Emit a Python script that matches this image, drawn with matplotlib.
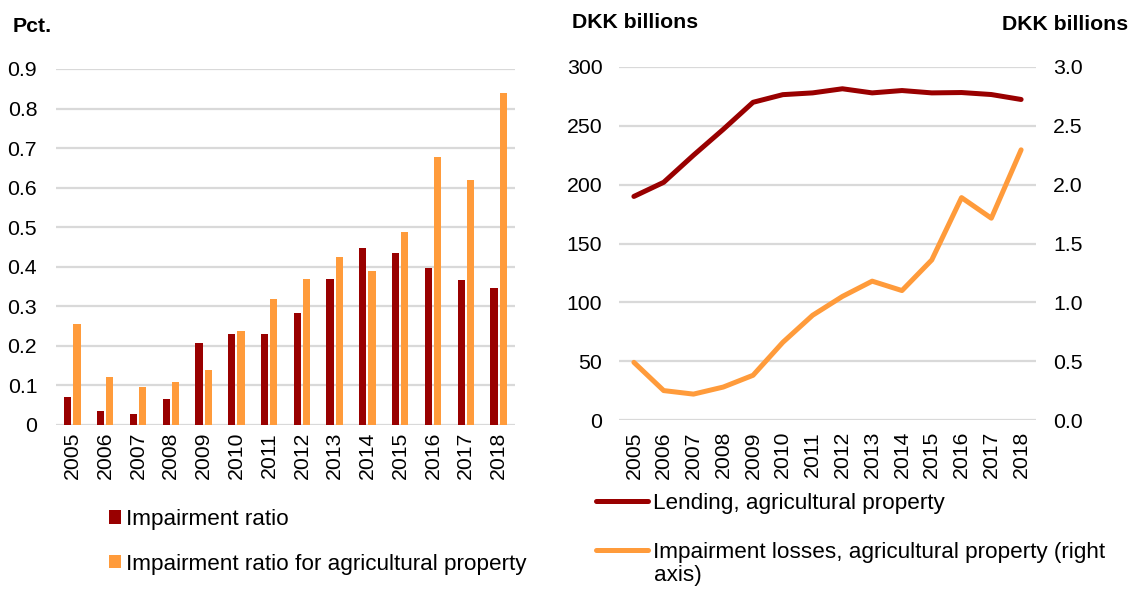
import numpy as np
import matplotlib
matplotlib.use("Agg")
import matplotlib.pyplot as plt

plt.rcParams["font.family"] = ["Liberation Sans", "DejaVu Sans"]

# impairment ratios (pct.)
years = ["2005", "2006", "2007", "2008", "2009", "2010", "2011",
         "2012", "2013", "2014", "2015", "2016", "2017", "2018"]
impairment_ratio = [0.072, 0.035, 0.027, 0.065, 0.207, 0.229, 0.230,
                    0.282, 0.368, 0.447, 0.435, 0.397, 0.366, 0.347]
impairment_ratio_agri = [0.256, 0.122, 0.095, 0.109, 0.139, 0.237, 0.318,
                         0.369, 0.424, 0.389, 0.489, 0.677, 0.619, 0.840]

# lending (DKK bn, left) and impairment losses (DKK bn, right axis)
lending_agri = [190, 202, 225, 247, 270, 276.5, 278, 281.5,
                278, 280, 278, 278.3, 276.6, 272.4]
losses_agri = [0.49, 0.25, 0.22, 0.28, 0.38, 0.66, 0.89, 1.05,
               1.18, 1.10, 1.36, 1.89, 1.715, 2.296]

dark_red = "#990000"
orange = "#FF9B3B"
grid_col = "#D9D9D9"
fs = 15.3
leg_fs = 16.2

fig = plt.figure(figsize=(11.34, 5.89), dpi=100)

# ---- left panel: bars ----
ax1 = fig.add_axes([56 / 1134, 1 - 425 / 589, 459 / 1134, 356 / 589])
x = np.arange(len(years))
w = 0.22
ax1.bar(x - 0.14, impairment_ratio, w, color=dark_red, label="Impairment ratio", zorder=3)
ax1.bar(x + 0.14, impairment_ratio_agri, w, color=orange,
        label="Impairment ratio for agricultural property", zorder=3)
ax1.set_xlim(-0.5, len(years) - 0.5)
ax1.set_ylim(0, 0.9)
ax1.set_yticks(np.arange(0, 0.91, 0.1))
ax1.set_yticklabels(["0"] + [f"{v:.1f}" for v in np.arange(0.1, 0.91, 0.1)])
ax1.set_xticks(x)
ax1.set_xticklabels(years, rotation=90)
ax1.yaxis.grid(True, color=grid_col, linewidth=1.6, zorder=0)
ax1.set_axisbelow(True)
for s in ax1.spines.values():
    s.set_visible(False)
ax1.tick_params(axis="both", length=0, labelsize=fs)
ax1.tick_params(axis="y", pad=13.5)
ax1.tick_params(axis="x", pad=5)
ax1.legend(loc="upper left", bbox_to_anchor=(109 / 1134, 1 - 509 / 589),
           bbox_transform=fig.transFigure, frameon=False, fontsize=leg_fs,
           handlelength=0.55, handleheight=0.55, handletextpad=0.2,
           labelspacing=1.05, borderaxespad=0, borderpad=0)
fig.text(13 / 1134, 1 - 27 / 589, "Pct.", fontsize=fs, fontweight="bold", va="center")

# ---- right panel: lines on two axes ----
ax2 = fig.add_axes([619 / 1134, 1 - 420 / 589, 417 / 1134, 353 / 589])
ax3 = ax2.twinx()
ax2.plot(x, lending_agri, color=dark_red, linewidth=3.6, solid_capstyle="round",
         label="Lending, agricultural property", zorder=3)
ax3.plot(x, losses_agri, color=orange, linewidth=3.6, solid_capstyle="round",
         label="Impairment losses, agricultural property (right", zorder=3)
ax2.set_xlim(-0.5, len(years) - 0.5)
ax2.set_ylim(0, 300)
ax3.set_ylim(0, 3.0)
ax2.set_yticks(np.arange(0, 301, 50))
ax3.set_yticks(np.arange(0, 3.01, 0.5))
ax3.set_yticklabels([f"{v:.1f}" for v in np.arange(0, 3.01, 0.5)])
ax2.set_xticks(x)
ax2.set_xticklabels(years, rotation=90)
ax2.yaxis.grid(True, color=grid_col, linewidth=1.6, zorder=0)
for a in (ax2, ax3):
    for s in a.spines.values():
        s.set_visible(False)
    a.tick_params(axis="both", length=0, labelsize=fs)
ax2.tick_params(axis="y", pad=12)
ax3.tick_params(axis="y", pad=12.5)
ax2.tick_params(axis="x", pad=8)

h2, l2 = ax2.get_legend_handles_labels()
h3, l3 = ax3.get_legend_handles_labels()
ax3.legend(h2 + h3, l2 + l3, loc="upper left", bbox_to_anchor=(596 / 1134, 1 - 493 / 589),
           bbox_transform=fig.transFigure, frameon=False, fontsize=leg_fs,
           handlelength=2.3, handletextpad=0.22, labelspacing=1.25,
           borderaxespad=0, borderpad=0)
# wrapped tail of the second legend label
fig.text(654 / 1134, 1 - 576 / 589, "axis)", fontsize=leg_fs, va="center")

fig.text(572 / 1134, 1 - 23 / 589, "DKK billions", fontsize=fs, fontweight="bold", va="center")
fig.text(1128 / 1134, 1 - 25 / 589, "DKK billions", fontsize=fs, fontweight="bold",
         va="center", ha="right")

fig.savefig("out.png", dpi=100)
